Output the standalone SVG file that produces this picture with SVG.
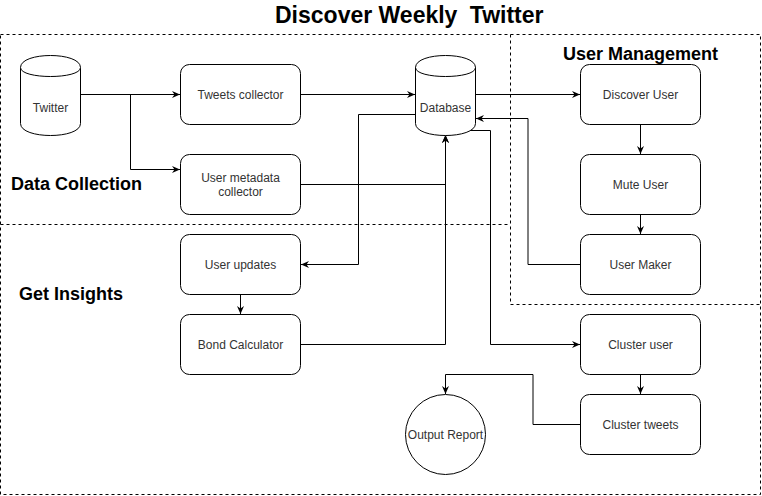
<svg xmlns="http://www.w3.org/2000/svg" width="762" height="496" viewBox="0 0 762 496">
  <defs>
    <marker id="arr" viewBox="0 0 10 8" refX="8" refY="4" markerWidth="10" markerHeight="8" markerUnits="userSpaceOnUse" orient="auto">
      <path d="M0,0.5 L8,4 L0,7.5 L2.5,4 Z" fill="#000"/>
    </marker>
  </defs>
  <style>
    .region { fill: none; stroke: #000; stroke-width: 1; stroke-dasharray: 3 3; }
    .hdr { font-family: "Liberation Sans", Arial, sans-serif; font-weight: bold; font-size: 18px; fill: #000; }
    .title { font-family: "Liberation Sans", Arial, sans-serif; font-weight: bold; font-size: 23px; fill: #000; }
    .box { fill: #fff; stroke: #000; stroke-width: 1; }
    .lbl { font-family: "Liberation Sans", Arial, sans-serif; font-size: 12px; fill: #333; text-anchor: middle; }
    .edge { fill: none; stroke: #000; stroke-width: 1; }
  </style>
  <rect width="762" height="496" fill="#fff"/>

  <g id="regions">
    <path class="region" d="M0.5,34.5 H760.5 V494.5 H0.5 Z"/>
    <path class="region" d="M0.5,224.5 H510.5"/>
    <path class="region" d="M510.5,34.5 V304.5 H760.5"/>
  </g>

  <g id="labels">
    <text class="title" x="275" y="23">Discover Weekly <tspan dx="6">Twitter</tspan></text>
    <text class="hdr" x="11" y="190">Data Collection</text>
    <text class="hdr" x="19" y="300">Get Insights</text>
    <text class="hdr" x="563" y="60">User Management</text>
  </g>

  <g id="connectors">
    <path class="edge" d="M80.5,94.5 H180" marker-end="url(#arr)"/>
    <path class="edge" d="M130.5,94.5 V169.5 H180" marker-end="url(#arr)"/>
    <path class="edge" d="M300.5,94.5 H415" marker-end="url(#arr)"/>
    <path class="edge" d="M475.5,94.5 H580" marker-end="url(#arr)"/>
    <path class="edge" d="M640.5,124.5 V154" marker-end="url(#arr)"/>
    <path class="edge" d="M640.5,214.5 V234" marker-end="url(#arr)"/>
    <path class="edge" d="M580.5,264.5 H528 V118.5 H476" marker-end="url(#arr)"/>
    <path class="edge" d="M415.5,114.5 H358.5 V264.5 H301" marker-end="url(#arr)"/>
    <path class="edge" d="M300.5,184.5 H445.5 V135" marker-end="url(#arr)"/>
    <path class="edge" d="M300.5,344.5 H445.5 V135" marker-end="url(#arr)"/>
    <path class="edge" d="M240.5,294.5 V314" marker-end="url(#arr)"/>
    <path class="edge" d="M462,130.5 H490.5 V344.5 H580" marker-end="url(#arr)"/>
    <path class="edge" d="M640.5,374.5 V394" marker-end="url(#arr)"/>
    <path class="edge" d="M580.5,424.5 H533 V374.5 H445.5 V394" marker-end="url(#arr)"/>
  </g>

  <g id="twitter">
    <path class="box" d="M20.5,67.5 C20.5,51.5 80.5,51.5 80.5,67.5 L80.5,123.5 C80.5,139.5 20.5,139.5 20.5,123.5 Z"/>
    <path class="box" fill="none" d="M20.5,67.5 C20.5,79.5 80.5,79.5 80.5,67.5"/>
    <text class="lbl" x="50.5" y="112">Twitter</text>
  </g>

  <g id="database">
    <path class="box" d="M415.5,67.5 C415.5,51.5 475.5,51.5 475.5,67.5 L475.5,123.5 C475.5,139.5 415.5,139.5 415.5,123.5 Z"/>
    <path class="box" d="M415.5,67.5 C415.5,79.5 475.5,79.5 475.5,67.5" style="fill:none"/>
    <text class="lbl" x="445.5" y="112">Database</text>
  </g>

  <g id="tweets-collector">
    <rect class="box" x="180.5" y="64.5" width="120" height="60" rx="9" ry="9"/>
    <text class="lbl" x="240.5" y="98.5">Tweets collector</text>
  </g>

  <g id="user-metadata-collector">
    <rect class="box" x="180.5" y="154.5" width="120" height="60" rx="9" ry="9"/>
    <text class="lbl" x="240.5" y="181.5">User metadata</text>
    <text class="lbl" x="240.5" y="195.5">collector</text>
  </g>

  <g id="user-updates">
    <rect class="box" x="180.5" y="234.5" width="120" height="60" rx="9" ry="9"/>
    <text class="lbl" x="240.5" y="268.5">User updates</text>
  </g>

  <g id="bond-calculator">
    <rect class="box" x="180.5" y="314.5" width="120" height="60" rx="9" ry="9"/>
    <text class="lbl" x="240.5" y="348.5">Bond Calculator</text>
  </g>

  <g id="discover-user">
    <rect class="box" x="580.5" y="64.5" width="120" height="60" rx="9" ry="9"/>
    <text class="lbl" x="640.5" y="98.5">Discover User</text>
  </g>

  <g id="mute-user">
    <rect class="box" x="580.5" y="154.5" width="120" height="60" rx="9" ry="9"/>
    <text class="lbl" x="640.5" y="188.5">Mute User</text>
  </g>

  <g id="user-maker">
    <rect class="box" x="580.5" y="234.5" width="120" height="60" rx="9" ry="9"/>
    <text class="lbl" x="640.5" y="268.5">User Maker</text>
  </g>

  <g id="cluster-user">
    <rect class="box" x="580.5" y="314.5" width="120" height="60" rx="9" ry="9"/>
    <text class="lbl" x="640.5" y="348.5">Cluster user</text>
  </g>

  <g id="cluster-tweets">
    <rect class="box" x="580.5" y="394.5" width="120" height="60" rx="9" ry="9"/>
    <text class="lbl" x="640.5" y="428.5">Cluster tweets</text>
  </g>

  <g id="output-report">
    <circle class="box" cx="445.5" cy="434.5" r="40"/>
    <text class="lbl" x="445.5" y="438.5">Output Report</text>
  </g>
</svg>
